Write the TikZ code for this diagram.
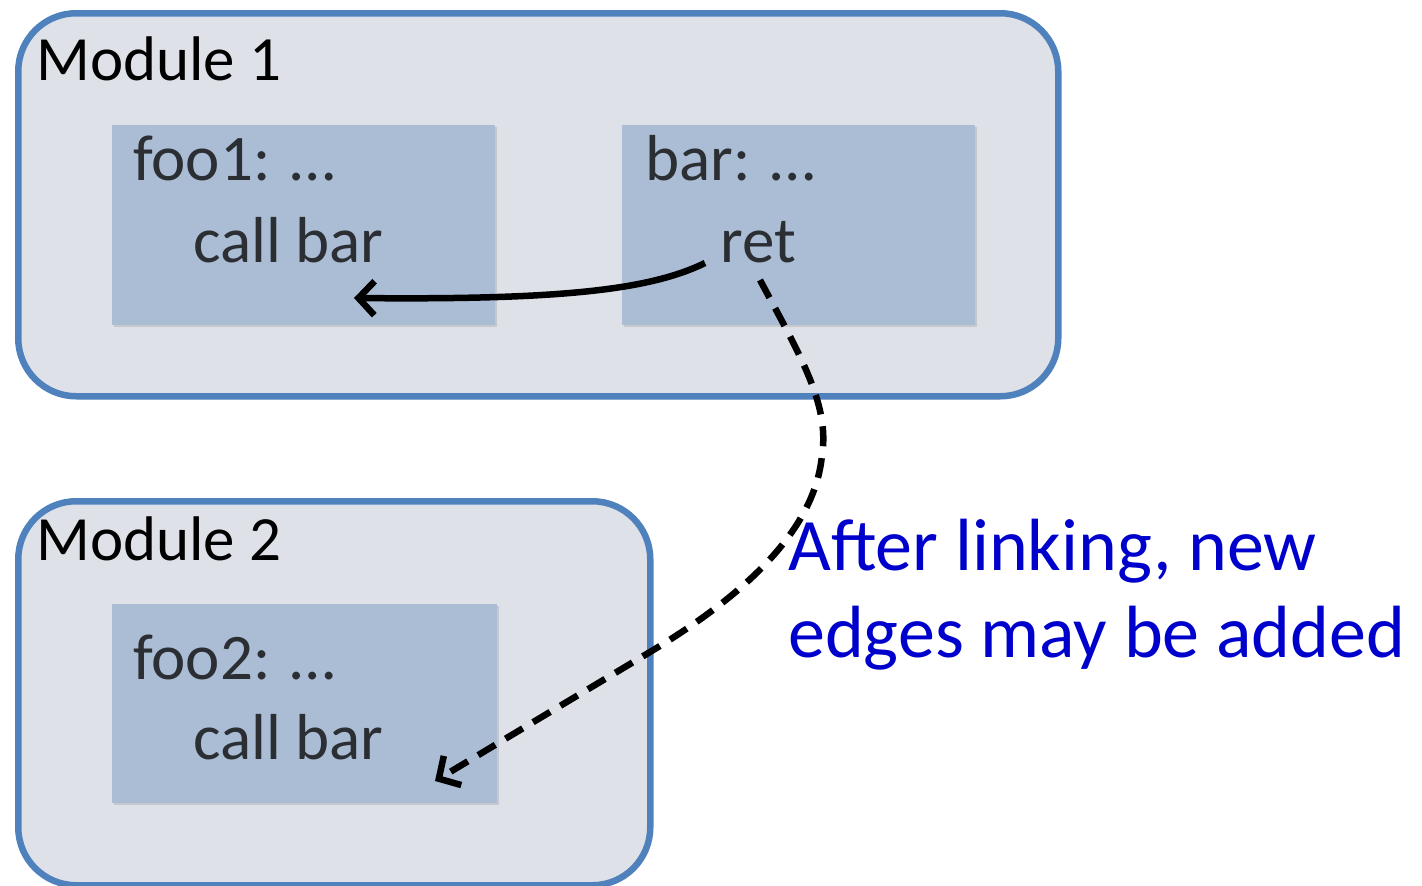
\documentclass[tikz,border=0pt]{standalone}
\usepackage{fontspec}
\setmainfont{Carlito}
\usetikzlibrary{arrows.meta,shadows}
\definecolor{modfill}{HTML}{DFE1E8}
\definecolor{modline}{HTML}{4F81BD}
\definecolor{funcfill}{HTML}{ABBCD5}
\definecolor{codetext}{HTML}{2B2E33}
\definecolor{notetext}{HTML}{0000CC}
\tikzset{
  modbox/.style={draw=modline, line width=6.5pt, fill=modfill, rounded corners=58pt,
    anchor=north west, inner sep=0pt,
    drop shadow={opacity=0.18, shadow xshift=2pt, shadow yshift=-3pt}},
  funcbox/.style={fill=funcfill, anchor=north west, inner sep=0pt,
    drop shadow={opacity=0.25, shadow xshift=2pt, shadow yshift=-2pt}},
  modlabel/.style={anchor=base west, inner sep=0pt, font=\fontsize{63}{70}\selectfont},
  code/.style={anchor=base west, inner sep=0pt, text=codetext, font=\fontsize{65}{70}\selectfont},
  note/.style={anchor=base west, inner sep=0pt, text=notetext, align=left,
    font=\fontsize{74}{87}\selectfont},
  link/.style={line width=6.5pt, -{Straight Barb[length=16pt,width=34pt,line width=6.5pt]}},
}
\begin{document}
\begin{tikzpicture}[x=1pt,y=-1pt]
  \useasboundingbox (0,0) rectangle (1422,886);

  % modules
  \node[modbox, minimum width=1040pt, minimum height=383pt] (m1) at (15,10) {};
  \node[modbox, minimum width=632pt, minimum height=384pt] (m2) at (15,498) {};
  \node[modlabel] (m1t) at (36,80) {Module 1};
  \node[modlabel] (m2t) at (36,560) {Module 2};

  % functions
  \node[funcbox, minimum width=383pt, minimum height=200pt] (foo1) at (112,125) {};
  \node[funcbox, minimum width=353pt, minimum height=200pt] (bar) at (622,125) {};
  \node[funcbox, minimum width=385pt, minimum height=199pt] (foo2) at (112,604) {};

  \node[code] (foo1a) at (133,180) {foo1: …};
  \node[code] (foo1b) at (193,262) {call bar};
  \node[code] (bara) at (645,180) {bar: …};
  \node[code] (barb) at (720,262) {ret};
  \node[code] (foo2a) at (133,679) {foo2: …};
  \node[code] (foo2b) at (193,759) {call bar};

  % note (base anchor sits on the last line)
  \node[note] (note) at (788,657) {After linking, new\\edges may be added};

  % return edges
  \coordinate (retL) at (705,263);
  \coordinate (retB) at (760,280);
  \coordinate (back1) at (354,298);
  \coordinate (back2) at (435,781);
  \coordinate (bend) at (822,455);
  \draw[link] (retL) .. controls (650,290) and (560,300) .. (back1);
  \draw[link, dash pattern=on 20pt off 12pt]
    (retB) .. controls (800,355) and (830,405) .. (bend)
    .. controls (815,530) and (745,595) .. (650,652) -- (back2);
\end{tikzpicture}
\end{document}
